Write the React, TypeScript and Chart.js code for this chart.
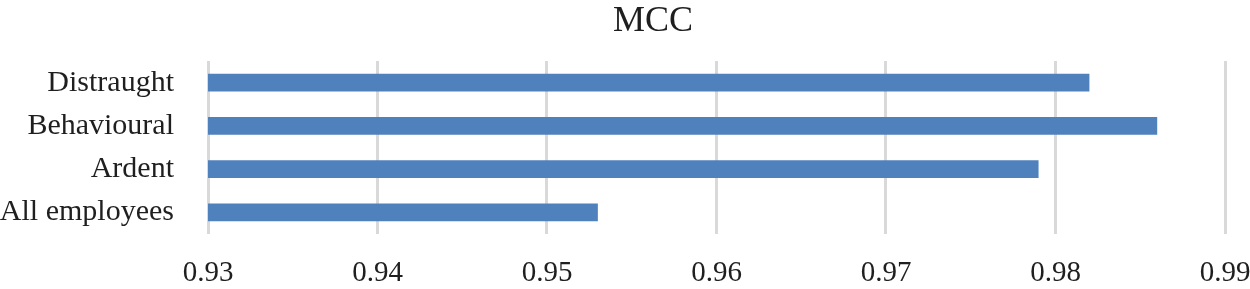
import React, { useEffect, useRef } from "react";
import { Chart, registerables } from "chart.js";

Chart.register(...registerables);

const categories = ["Distraught", "Behavioural", "Ardent", "All employees"];
const mccValues = [0.982, 0.986, 0.979, 0.953];
const xTicks = [0.93, 0.94, 0.95, 0.96, 0.97, 0.98, 0.99];
const chartTitle = "MCC";

const FONT = "'Liberation Serif', 'Times New Roman', serif";

export default function App() {
  const ref = useRef<HTMLCanvasElement | null>(null);

  useEffect(() => {
    if (!ref.current) return;
    const titlePlugin = {
      id: "customTitle",
      afterDraw(chart: any) {
        const ctx = chart.ctx;
        ctx.save();
        ctx.font = `36px ${FONT}`;
        ctx.fillStyle = "#1f1f1f";
        ctx.textAlign = "center";
        ctx.textBaseline = "alphabetic";
        ctx.fillText(chartTitle, 653, 31);
        ctx.restore();
      },
    };
    const chart = new Chart(ref.current, {
      type: "bar",
      data: {
        labels: categories,
        datasets: [
          {
            label: chartTitle,
            data: mccValues,
            backgroundColor: "#4f81bd",
            barPercentage: 0.416,
            categoryPercentage: 1,
          },
        ],
      },
      options: {
        indexAxis: "y",
        animation: false,
        responsive: false,
        devicePixelRatio: 1,
        layout: { padding: { top: 61, left: 0, right: 25, bottom: 0 } },
        plugins: {
          legend: { display: false },
          title: { display: false },
          tooltip: { enabled: false },
        },
        scales: {
          x: {
            min: 0.93,
            max: 0.99,
            afterBuildTicks: (axis: any) => {
              axis.ticks = xTicks.map((v) => ({ value: v }));
            },
            afterFit: (axis: any) => {
              axis.paddingLeft = 0;
              axis.paddingRight = 0;
              axis.height = 55;
            },
            grid: {
              color: "#d9d9d9",
              lineWidth: 3,
              drawTicks: false,
            },
            border: { display: false },
            ticks: {
              padding: 23,
              color: "#1f1f1f",
              font: { family: FONT, size: 29, lineHeight: 1.15 },
              callback: (v: any) => Number(v).toFixed(2),
              maxRotation: 0,
              autoSkip: false,
            },
          },
          y: {
            afterFit: (axis: any) => {
              axis.width = 208;
              axis.paddingTop = 0;
              axis.paddingBottom = 0;
            },
            grid: { display: false, drawTicks: false },
            border: { display: false },
            ticks: {
              padding: 34,
              autoSkip: false,
              color: "#1f1f1f",
              font: { family: FONT, size: 30 },
            },
          },
        },
      },
      plugins: [titlePlugin],
    });
    return () => chart.destroy();
  }, []);

  return (
    <div style={{ position: "fixed", left: 0, top: 0, width: 1250, height: 289, background: "#fff" }}>
      <canvas ref={ref} width={1250} height={289} />
    </div>
  );
}
